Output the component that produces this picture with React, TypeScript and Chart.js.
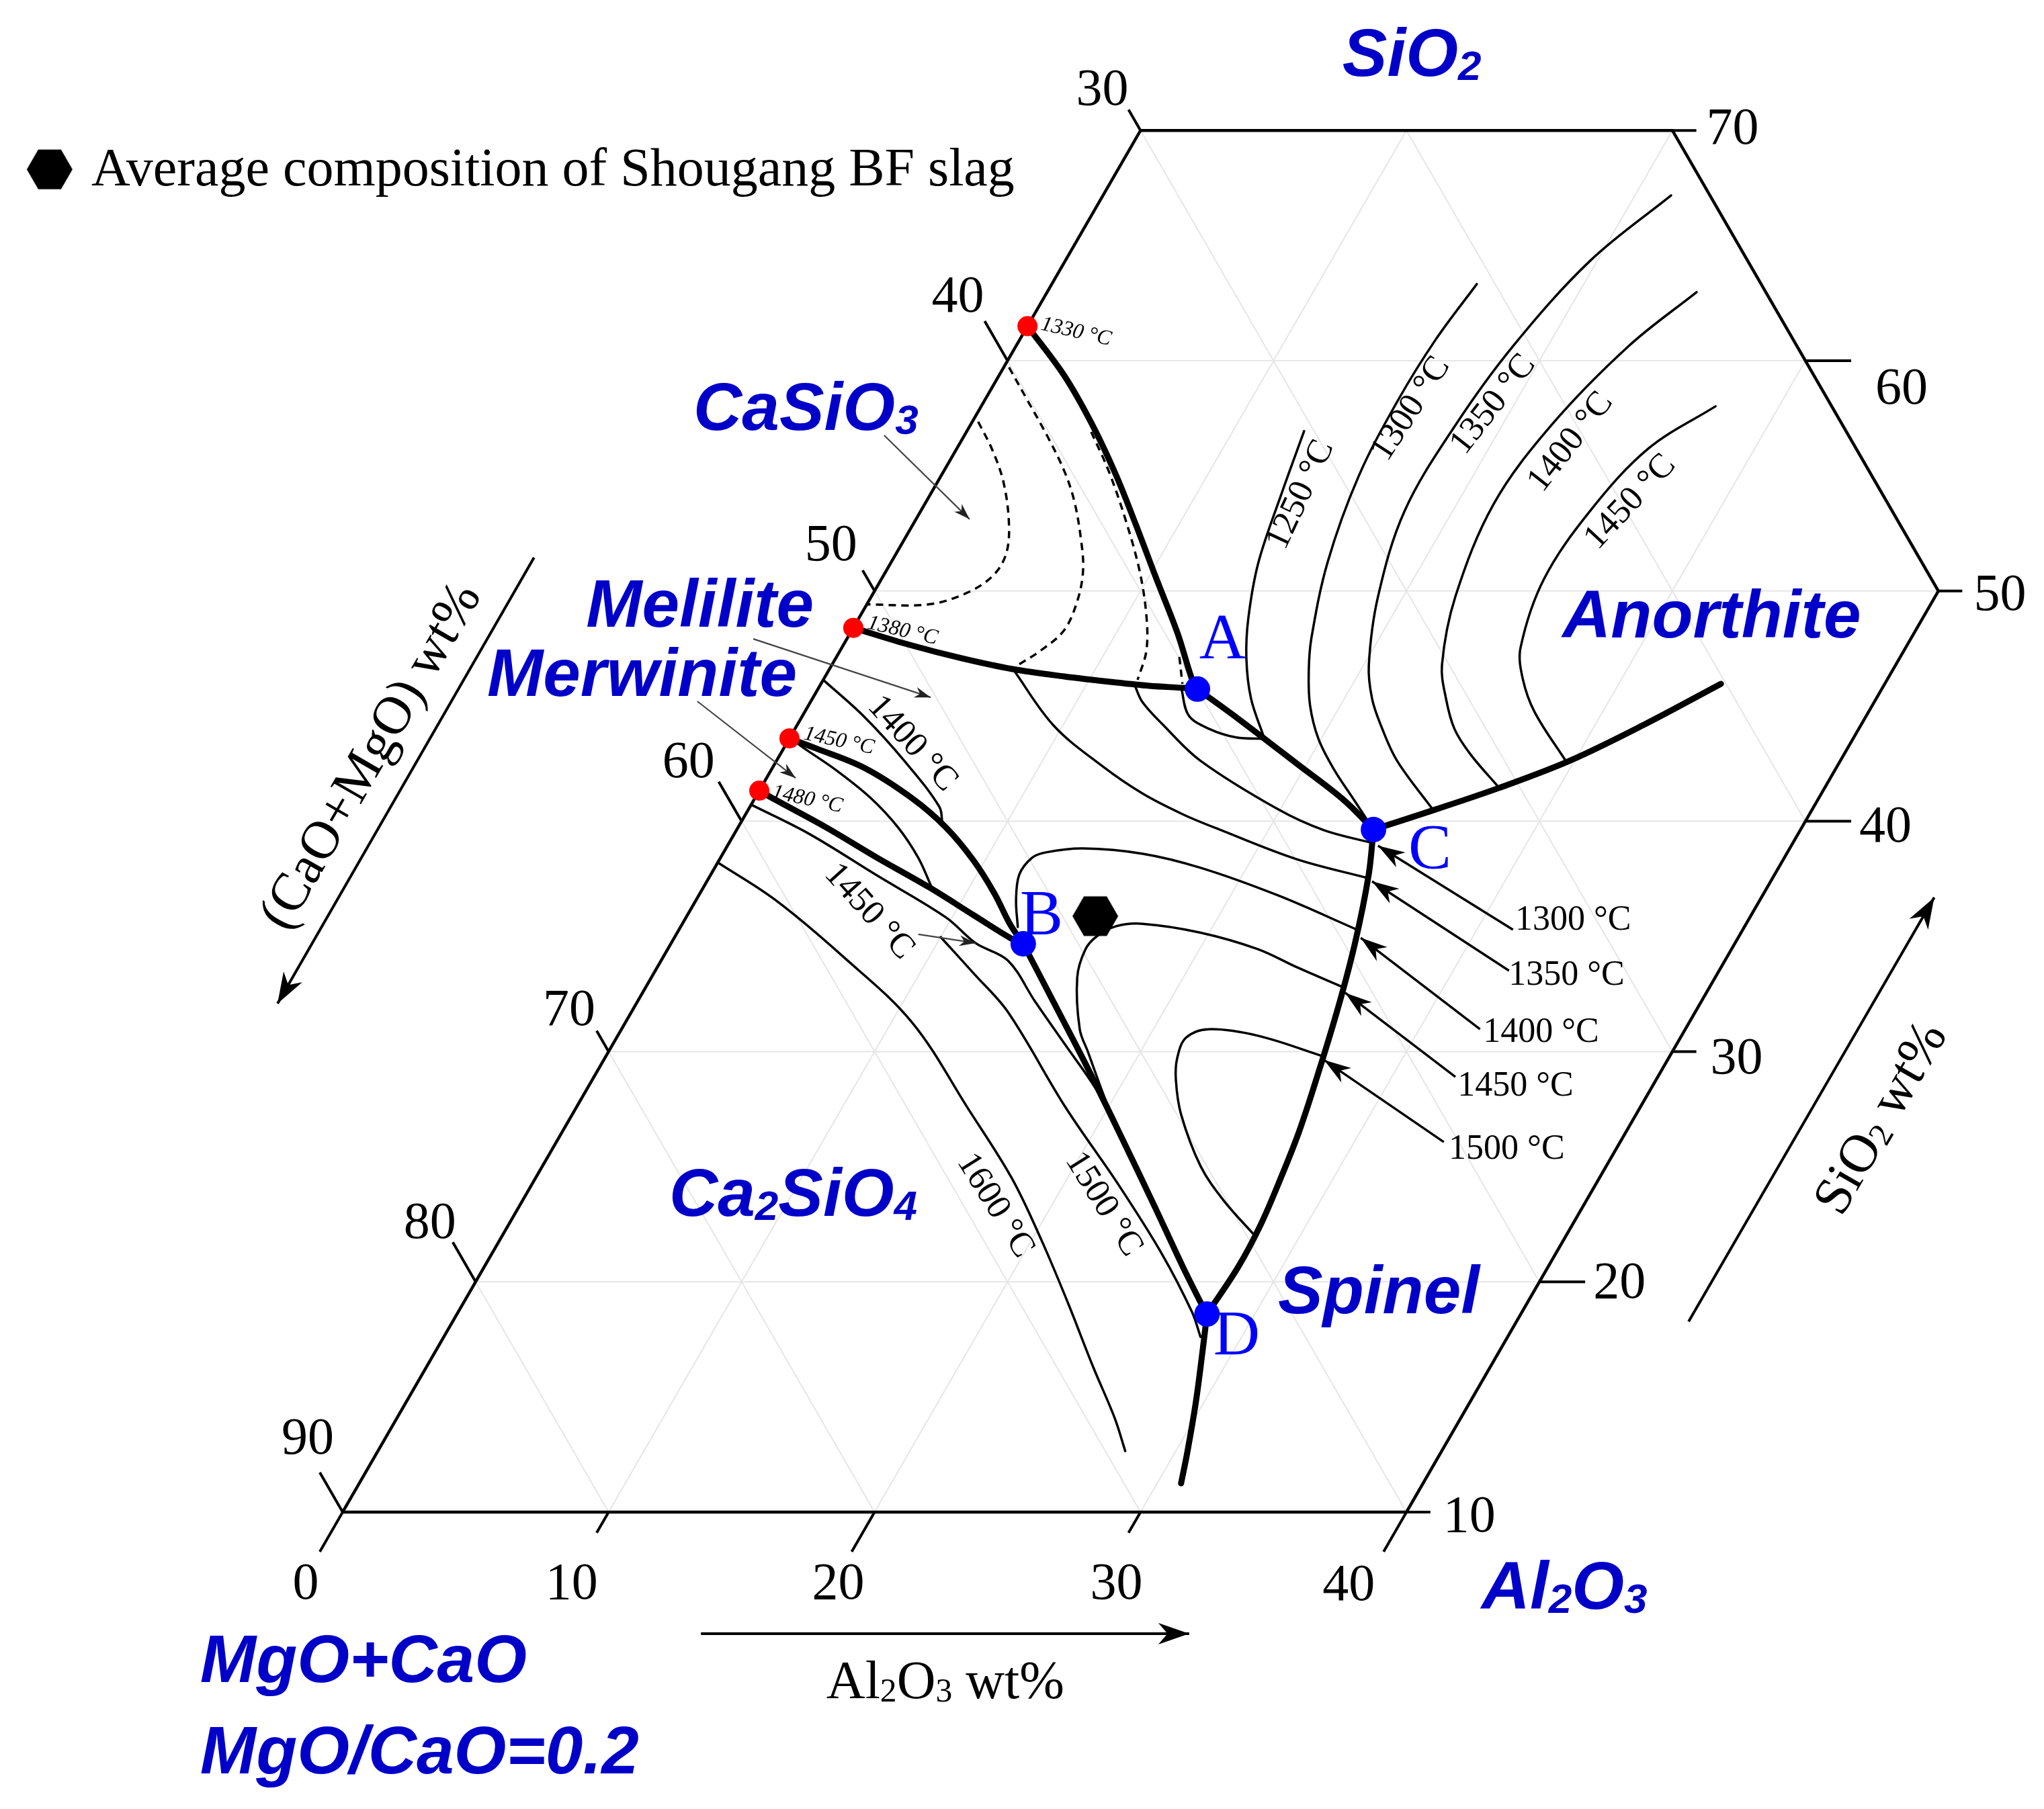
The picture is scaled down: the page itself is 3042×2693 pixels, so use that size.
import React, { useEffect, useRef } from "react";
import { Chart, registerables } from "chart.js";

Chart.register(...registerables);

/* ===== DATA — every point is [Al2O3 wt%, SiO2 wt%]; (CaO+MgO) wt% = 100 - Al2O3 - SiO2 ===== */

const invariantNames = ["A", "B", "C", "D"];
const invariantPoints = [
  [14.27, 45.74],
  [13.25, 34.68],
  [23.94, 39.64],
  [28.2, 18.6],
];
const edgeTempLabels = ["1330 °C", "1380 °C", "1450 °C", "1480 °C"];
const edgeTempPoints = [
  [0, 61.5],
  [0, 48.4],
  [0, 43.6],
  [0, 41.33],
];
const slagAverage = [[15.36, 35.88]];

// thick phase boundaries
const boundary1330toA = [[0, 61.5], [2.45, 59.36], [4.51, 57.29], [6.53, 55.07], [8.41, 52.85], [10.34, 50.52], [12.29, 48.19], [13.92, 46.08], [14.27, 45.74]];
const boundary1380toA = [[0, 48.4], [2.49, 47.66], [4.73, 47.08], [6.88, 46.61], [8.98, 46.29], [11.03, 46.03], [12.4, 45.88], [13.73, 45.79], [14.27, 45.74]];
const boundaryAtoC = [[14.27, 45.74], [16.45, 44.45], [19.63, 42.5], [22.14, 40.95], [23.94, 39.64]];
const boundaryCtoAnorthite = [[23.94, 39.64], [25.77, 40.48], [27.76, 41.45], [29.84, 42.64], [31.83, 44.19], [33.84, 45.97]];
const boundaryCtoD = [[23.94, 39.64], [24.74, 37.68], [25.71, 34.71], [26.52, 31.73], [27.3, 28.41], [27.72, 26.42], [28.03, 24.44], [28.28, 22.46], [28.35, 20.65], [28.2, 18.6]];
const boundaryDdown = [[28.2, 18.6], [28.81, 17.06], [29.68, 14.81], [30.46, 12.6], [30.9, 11.25]];
const boundary1450toB = [[0, 43.6], [1.2, 43.17], [3.45, 42.32], [5.89, 41.01], [7.82, 39.73], [9.57, 38.3], [11.07, 36.87], [12.31, 35.55], [13.25, 34.68]];
const boundary1480toB = [[0, 41.33], [0.77, 40.95], [3.32, 39.73], [5.9, 38.41], [8.49, 37.13], [10.75, 35.93], [12.68, 34.91], [13.25, 34.68]];
const boundaryBtoD = [[13.25, 34.68], [15.75, 32.05], [18.43, 29.22], [21.2, 26.22], [23.87, 23.3], [26.24, 20.68], [27.6, 19.22], [28.2, 18.6]];

// isotherms, anorthite field
const iso1250Anorthite = [[12.68, 56.94], [13.19, 54.22], [13.81, 51.25], [14.64, 48.83], [15.44, 47.08], [16.49, 45.33], [17.87, 43.58]];
const iso1250Loop = [[17.87, 43.58], [16.78, 43.64], [15.58, 44.01], [14.51, 44.6], [13.63, 45.8]];
const iso1300Anorthite = [[15.98, 63.33], [15.64, 60.93], [15.54, 58.25], [15.71, 54.98], [16.41, 51.25], [17.45, 47.95], [18.08, 46.49], [18.86, 45.03], [19.9, 43.58], [21.14, 42.26], [22.54, 40.95], [23.94, 39.64]];
const iso1350Anorthite = [[21.36, 67.18], [19.74, 64.35], [18.69, 60.64], [18.24, 57.2], [18.19, 53.49], [19.05, 49.76], [20.19, 46.79], [21.04, 45.33], [21.96, 44.16], [23.32, 42.64], [25.77, 40.48]];
const iso1400Anorthite = [[24.42, 62.98], [23.04, 60.64], [21.85, 57.2], [21.39, 53.79], [21.96, 49.76], [22.94, 46.79], [23.82, 45.33], [24.8, 44.01], [25.95, 42.91], [27.76, 41.45]];
const iso1450Anorthite = [[27.61, 58.02], [26.0, 56.18], [25.17, 53.49], [24.91, 50.52], [25.52, 47.54], [26.27, 46.2], [27.45, 44.74], [29.7, 42.6]];

// isotherms, melilite field
const iso1300Melilite = [[11.8, 45.94], [12.48, 45.18], [13.79, 44.16], [15.92, 42.64], [19.87, 40.54], [22.09, 39.61], [24.09, 39.08]];
const iso1350Melilite = [[6.91, 46.6], [9.65, 44.16], [12.34, 42.41], [14.46, 41.21], [16.42, 40.31], [18.15, 39.64], [21.7, 38.35], [24.75, 37.54]];
const iso1400MeliliteUpper = [[0, 46.14], [2.34, 44.54], [4.85, 42.59], [7.12, 40.63], [7.6, 39.9]];
const iso1400MeliliteLoop = [[12.68, 35.41], [12.03, 36.58], [11.6, 37.68], [11.71, 38.41], [12.12, 38.65], [13.43, 38.82], [15.79, 38.59], [18.27, 37.98], [21.78, 36.78], [25.5, 35.29]];
const iso1450Melilite = [[20.15, 27.4], [19.26, 28.47], [18.06, 29.95], [17.23, 30.97], [16.01, 33.22], [15.71, 34.42], [15.85, 35.0], [16.36, 35.44], [17.29, 35.55], [19.65, 35.17], [22.18, 34.45], [24.05, 33.66], [26.2, 32.8]];
const iso1500Melilite = [[26.95, 29.8], [24.1, 30.68], [22.08, 30.97], [21.41, 30.6], [21.52, 29.72], [21.95, 28.76], [22.89, 27.27], [24.75, 25.02], [26.35, 23.54], [28.3, 22.0]];

// isotherms, merwinite / Ca2SiO4 fields
const isoMerwinite = [[0.3, 43.45], [0.66, 43.23], [2.46, 42.21], [4.35, 41.01], [6.02, 39.73], [7.44, 38.41], [8.53, 37.19]];
const iso1450Ca2SiO4 = [[0, 40.72], [2.8, 39.46], [6.3, 37.63], [9.78, 35.82], [11.44, 34.71], [13.04, 33.95], [14.92, 32.2], [17.07, 30.25], [19.1, 28.41], [20.8, 26.66]];
const iso1500Ca2SiO4 = [[10.0, 34.97], [12.06, 33.37], [14.14, 31.73], [18.41, 27.56], [22.07, 24.21], [25.18, 21.23], [27.59, 18.69], [28.45, 17.61]];
const iso1600Ca2SiO4 = [[0, 38.21], [2.95, 36.6], [6.76, 34.12], [10.77, 31.27], [14.81, 27.47], [17.91, 24.5], [20.37, 21.81], [22.69, 19.13], [25.07, 16.3], [26.99, 14.08], [28.1, 12.65]];

// dashed curves, CaSiO3 field
const dashedCaSiO3a = [[0.22, 57.35], [1.37, 56.12], [2.51, 54.69], [3.63, 52.85], [4.15, 51.57], [4.11, 50.64], [3.46, 49.88], [2.27, 49.41], [0, 49.42]];
const dashedCaSiO3b = [[0.2, 59.71], [1.55, 58.34], [3.1, 56.76], [4.52, 55.22], [5.56, 53.9], [6.66, 52.21], [7.39, 50.9], [7.83, 49.61], [7.98, 48.3], [7.53, 47.4], [6.95, 46.73]];
const dashedCaSiO3c = [[4.69, 56.91], [6.19, 55.22], [7.87, 53.12], [9.51, 50.9], [10.75, 48.94], [11.52, 47.4], [11.82, 46.14]];
const dashedCaSiO3d = [[12.89, 47.14], [13.59, 45.97]];

// isotherm call-outs on the C–D boundary
const cdTempLabels = ["1300 °C", "1350 °C", "1400 °C", "1450 °C", "1500 °C"];
const cdArrowTails = [[31.36, 35.29], [32.1, 33.51], [32.28, 30.97], [32.39, 28.9], [33.37, 26.07]];
const cdArrowHeads = [[24.46, 38.94], [25.01, 37.39], [25.81, 34.94], [26.42, 32.55], [27.09, 29.63]];

// small label pointers
const pointerCaSiO3 = [[-3.02, 56.76], [2.01, 53.12]];
const pointerMelilite = [[-3.52, 47.92], [4.42, 45.38]];
const pointerMerwinite = [[-4.27, 45.21], [1.09, 41.88]];
const pointer1450 = [[9.1, 35.09], [11.44, 34.71]];

// axis direction arrows
const arrowCaOMgO = [[-13.53, 51.45], [-13.49, 32.08]];
const arrowSiO2 = [[46.47, 18.28], [46.5, 36.69]];
const arrowAl2O3 = [[16.11, 4.72], [34.47, 4.72]];

// frame & ticks
const frame = [[0, 10], [40, 10], [40, 50], [20, 70], [0, 70], [0, 10]];
const gridSteps = [10, 20, 30, 40, 50, 60, 70, 80, 90];
const leftTickValues = [30, 40, 50, 60, 70, 80, 90]; // (CaO+MgO) wt%
const bottomTickValues = [0, 10, 20, 30, 40]; // Al2O3 wt%
const rightTickValues = [10, 20, 30, 40, 50, 60, 70]; // SiO2 wt%

/* ===== STYLE / LAYOUT ===== */
const W = 3042;
const H = 2693;
const VIEW = { xMin: -7.885, xMax: 68.972, yMin: -2.894, yMax: 75.665 };
const leftTickLong = [false, true, false, true, false, true, true];
const bottomTickLong = [true, false, true, false, true];
const rightTickLong = [false, true, false, true, false, true, false];
const TICK_LONG = 1.72;
const TICK_SHORT = 0.9;
const leftLabelShift = [[-39, -33], [-40, -40], [-47, -41], [-45, -32], [-41, -34], [-34, -32], [-18, -54]];
const bottomLabelShift = [[-55, 103], [-55, 103], [-54, 103], [-36, 103], [-86, 105]];
const rightLabelShift = [[19, 3], [12, -2], [21, 7], [12, 5], [17, 2], [36, 38], [15, -6]];

const SANS = "'Liberation Sans', Arial, sans-serif";
const SERIF = "'Liberation Serif', 'Times New Roman', serif";
const PHASE_BLUE = "#0000c8";
const POINT_BLUE = "#0000ff";

const phaseTexts = [
  { segs: [["CaSiO", 0], ["3", 1]], X: 18.19, Y: 57.0 },
  { segs: [["Melilite", 0]], X: 14.15, Y: 48.45 },
  { segs: [["Merwinite", 0]], X: 10.43, Y: 45.44 },
  { segs: [["Ca", 0], ["2", 1], ["SiO", 0], ["4", 1]], X: 17.28, Y: 22.86 },
  { segs: [["Anorthite", 0]], X: 50.86, Y: 47.98 },
  { segs: [["Spinel", 0]], X: 40.17, Y: 18.63 },
  { segs: [["SiO", 0], ["2", 1]], X: 42.59, Y: 72.37 },
  { segs: [["Al", 0], ["2", 1], ["O", 0], ["3", 1]], X: 47.82, Y: 5.8 },
  { segs: [["MgO+CaO", 0]], X: -0.36, Y: 2.62 },
  { segs: [["MgO/CaO=0.2", 0]], X: -0.36, Y: -1.35 },
];
const invariantLabelPos = [[37.21, 47.08], [30.47, 35.09], [45.07, 37.95], [37.74, 16.83]];
const edgeTempLabelPos = [[31.28, 61.66, 13], [24.76, 48.68, 13], [22.36, 43.87, 12], [21.17, 41.33, 12]];
const isoTexts = [
  { t: "1250 °C", X: 40.95, Y: 54.22, r: -65 },
  { t: "1300 °C", X: 45.1, Y: 57.96, r: -57 },
  { t: "1350 °C", X: 48.2, Y: 58.16, r: -52 },
  { t: "1400 °C", X: 51.11, Y: 56.53, r: -52 },
  { t: "1450 °C", X: 53.36, Y: 53.93, r: -47 },
  { t: "1400 °C", X: 26.48, Y: 43.43, r: 48 },
  { t: "1450 °C", X: 24.86, Y: 36.14, r: 48 },
  { t: "1600 °C", X: 29.61, Y: 23.36, r: 58 },
  { t: "1500 °C", X: 33.68, Y: 23.42, r: 58 },
];
const cdLabelPos = [[49.09, 35.29], [48.84, 32.9], [47.88, 30.42], [46.92, 28.09], [46.59, 25.34]];
const legendPos = { hexX: -6.02, hexY: 68.31, textX: -4.45, textY: 67.61 };
const axisTitles = [
  { segs: [["(CaO+MgO) wt%", 0]], X: 5.99, Y: 42.88, r: -60 },
  { segs: [["SiO", 0], ["2", 1], [" wt%", 0]], X: 62.78, Y: 27.15, r: -60 },
  { segs: [["Al", 0], ["2", 1], ["O", 0], ["3", 1], [" wt%", 0]], X: 27.66, Y: 1.92, r: 0, base: true },
];

/* ===== helpers ===== */
const tern = (p) => ({ x: p[0] + p[1] / 2, y: p[1] });

function lineDs(pts, width, extra = {}) {
  return {
    data: pts.map(tern),
    showLine: true,
    pointRadius: 0,
    pointHoverRadius: 0,
    pointHitRadius: 0,
    borderColor: "#000",
    backgroundColor: "#000",
    borderWidth: width,
    tension: 0.35,
    fill: false,
    borderCapStyle: "round",
    borderJoinStyle: "round",
    order: 60,
    ...extra,
  };
}

function hexCanvas(r) {
  const c = document.createElement("canvas");
  c.width = Math.ceil(2 * r + 4);
  c.height = Math.ceil(2 * r + 4);
  const g = c.getContext("2d");
  const cx = c.width / 2;
  const cy = c.height / 2;
  g.beginPath();
  for (let i = 0; i < 6; i++) {
    const a = (Math.PI / 3) * i;
    const x = cx + r * Math.cos(a);
    const y = cy + r * Math.sin(a);
    if (i === 0) g.moveTo(x, y);
    else g.lineTo(x, y);
  }
  g.closePath();
  g.fillStyle = "#000";
  g.fill();
  return c;
}

function drawText(ctx, segs, x, y, o) {
  ctx.save();
  ctx.translate(x, y);
  if (o.rot) ctx.rotate((o.rot * Math.PI) / 180);
  ctx.fillStyle = o.color || "#000";
  ctx.textBaseline = "alphabetic";
  ctx.textAlign = "left";
  const parts = segs.map((s) => {
    const sub = !!s[1];
    const size = sub ? o.size * 0.62 : o.size;
    const font = `${o.style || ""} ${size}px ${o.family}`;
    ctx.font = font;
    return { t: s[0], font, w: ctx.measureText(s[0]).width, dy: sub ? o.size * 0.06 : 0 };
  });
  const total = parts.reduce((a, p) => a + p.w, 0);
  let cx = o.align === "center" ? -total / 2 : 0;
  const vy = o.vcenter ? o.size * 0.33 : 0;
  parts.forEach((p) => {
    ctx.font = p.font;
    ctx.fillText(p.t, cx, vy + p.dy);
    cx += p.w;
  });
  ctx.restore();
}

function drawHead(ctx, x1, y1, x2, y2, len, half, color) {
  const a = Math.atan2(y2 - y1, x2 - x1);
  ctx.save();
  ctx.translate(x2, y2);
  ctx.rotate(a);
  ctx.beginPath();
  ctx.moveTo(0, 0);
  ctx.lineTo(-len, -half);
  ctx.lineTo(-len * 0.7, 0);
  ctx.lineTo(-len, half);
  ctx.closePath();
  ctx.fillStyle = color;
  ctx.fill();
  ctx.restore();
}

function buildDatasets(hexImg) {
  const ds = [];
  // grid
  const GRID = { borderColor: "#e6e6e6", tension: 0, order: 100, borderCapStyle: "butt" };
  gridSteps.forEach((s) => {
    if (s > 10 && s < 70) ds.push(lineDs([[0, s], [Math.min(40, 90 - s), s]], 2, GRID));
    if (s > 0 && s < 40) ds.push(lineDs([[s, 10], [s, Math.min(70, 90 - s)]], 2, GRID));
    const k = s;
    if (k >= 20 && k <= 80) {
      const lo = Math.max(10, k - 40);
      const hi = Math.min(70, k);
      ds.push(lineDs([[k - lo, lo], [k - hi, hi]], 2, GRID));
    }
  });
  // frame
  ds.push(lineDs(frame, 4.5, { tension: 0, order: 90, borderJoinStyle: "miter", borderCapStyle: "butt" }));
  // ticks
  const TICK = { tension: 0, order: 90, borderCapStyle: "butt" };
  leftTickValues.forEach((c, i) => {
    const si = 100 - c;
    const d = leftTickLong[i] ? TICK_LONG : TICK_SHORT;
    ds.push(lineDs([[0, si], [-d, si + d]], 4, TICK));
  });
  bottomTickValues.forEach((a, i) => {
    const d = bottomTickLong[i] ? TICK_LONG : TICK_SHORT;
    ds.push(lineDs([[a, 10], [a, 10 - d]], 4, TICK));
  });
  rightTickValues.forEach((si, i) => {
    const d = rightTickLong[i] ? TICK_LONG : TICK_SHORT;
    const base = si <= 50 ? 40 : 90 - si;
    ds.push(lineDs([[base, si], [base + d, si]], 4, TICK));
  });
  // thin isotherms
  [
    iso1250Anorthite, iso1250Loop, iso1300Anorthite, iso1350Anorthite, iso1400Anorthite, iso1450Anorthite,
    iso1300Melilite, iso1350Melilite, iso1400MeliliteUpper, iso1400MeliliteLoop, iso1450Melilite, iso1500Melilite,
    isoMerwinite, iso1450Ca2SiO4, iso1500Ca2SiO4, iso1600Ca2SiO4,
  ].forEach((c) => ds.push(lineDs(c, 3.5, { order: 60 })));
  // dashed
  [dashedCaSiO3a, dashedCaSiO3b, dashedCaSiO3c, dashedCaSiO3d].forEach((c) =>
    ds.push(lineDs(c, 3.5, { order: 60, borderDash: [11, 8], borderCapStyle: "butt" }))
  );
  // thick boundaries
  [
    boundary1330toA, boundary1380toA, boundaryAtoC, boundaryCtoAnorthite, boundaryCtoD, boundaryDdown,
    boundary1450toB, boundary1480toB, boundaryBtoD,
  ].forEach((c) => ds.push(lineDs(c, 9, { order: 50 })));
  // C–D call-out arrows
  cdArrowTails.forEach((t, i) =>
    ds.push(lineDs([t, cdArrowHeads[i]], 3.5, { tension: 0, order: 40, borderCapStyle: "butt", arrowHead: [40, 13, "#000"] }))
  );
  // label pointers
  [pointerCaSiO3, pointerMelilite, pointerMerwinite, pointer1450].forEach((p) =>
    ds.push(lineDs(p, 2.2, { tension: 0, order: 40, borderColor: "#444", borderCapStyle: "butt", arrowHead: [24, 8, "#222"] }))
  );
  // axis arrows
  [arrowCaOMgO, arrowSiO2, arrowAl2O3].forEach((p) =>
    ds.push(lineDs(p, 4, { tension: 0, order: 40, borderCapStyle: "butt", arrowHead: [46, 16, "#000"] }))
  );
  // points
  ds.push({
    data: edgeTempPoints.map(tern),
    pointRadius: 15,
    pointHoverRadius: 15,
    pointBackgroundColor: "#ff0000",
    pointBorderWidth: 0,
    showLine: false,
    order: 5,
  });
  ds.push({
    data: invariantPoints.map(tern),
    pointRadius: 19,
    pointHoverRadius: 19,
    pointBackgroundColor: "#0000ff",
    pointBorderWidth: 0,
    showLine: false,
    order: 4,
  });
  ds.push({
    data: slagAverage.map(tern),
    pointStyle: hexImg,
    pointRadius: 34,
    showLine: false,
    order: 3,
  });
  return ds;
}

const arrowPlugin = {
  id: "arrowHeads",
  afterDatasetsDraw(chart) {
    const ctx = chart.ctx;
    chart.data.datasets.forEach((ds, i) => {
      if (!ds.arrowHead) return;
      const pts = chart.getDatasetMeta(i).data;
      if (pts.length < 2) return;
      const a = pts[pts.length - 2];
      const b = pts[pts.length - 1];
      drawHead(ctx, a.x, a.y, b.x, b.y, ds.arrowHead[0], ds.arrowHead[1], ds.arrowHead[2]);
    });
  },
};

function makeTextPlugin(hexImg) {
  return {
    id: "ternaryText",
    afterDraw(chart) {
      const ctx = chart.ctx;
      const sx = chart.scales.x;
      const sy = chart.scales.y;
      const P = (X, Y) => [sx.getPixelForValue(X), sy.getPixelForValue(Y)];
      const T = (p) => P(p[0] + p[1] / 2, p[1]);

      // legend
      const hp = P(legendPos.hexX, legendPos.hexY);
      ctx.drawImage(hexImg, hp[0] - hexImg.width / 2, hp[1] - hexImg.height / 2);
      const lp = P(legendPos.textX, legendPos.textY);
      drawText(ctx, [["Average composition of Shougang BF slag", 0]], lp[0], lp[1], { size: 80, family: SERIF });

      // phase names / titles
      phaseTexts.forEach((t) => {
        const p = P(t.X, t.Y);
        drawText(ctx, t.segs, p[0], p[1], { size: 100, family: SANS, style: "italic bold", color: PHASE_BLUE });
      });

      // invariant point letters
      invariantNames.forEach((n, i) => {
        const p = P(invariantLabelPos[i][0], invariantLabelPos[i][1]);
        drawText(ctx, [[n, 0]], p[0], p[1], { size: 96, family: SERIF, color: POINT_BLUE });
      });

      // edge temperatures
      edgeTempLabels.forEach((t, i) => {
        const q = edgeTempLabelPos[i];
        const p = P(q[0], q[1]);
        drawText(ctx, [[t, 0]], p[0], p[1], { size: 32, family: SERIF, style: "italic", rot: q[2], vcenter: true });
      });

      // isotherm labels
      isoTexts.forEach((t) => {
        const p = P(t.X, t.Y);
        drawText(ctx, [[t.t, 0]], p[0], p[1], { size: 52, family: SERIF, rot: t.r, align: "center", vcenter: true });
      });
      cdTempLabels.forEach((t, i) => {
        const p = P(cdLabelPos[i][0], cdLabelPos[i][1]);
        drawText(ctx, [[t, 0]], p[0], p[1], { size: 52, family: SERIF });
      });

      // axis titles
      axisTitles.forEach((t) => {
        const p = P(t.X, t.Y);
        drawText(ctx, t.segs, p[0], p[1], { size: 80, family: SERIF, rot: t.r, align: "center", vcenter: !t.base });
      });

      // tick labels
      const TL = { size: 78, family: SERIF, align: "center", vcenter: true };
      leftTickValues.forEach((c, i) => {
        const si = 100 - c;
        const d = leftTickLong[i] ? TICK_LONG : TICK_SHORT;
        const e = T([-d, si + d]);
        drawText(ctx, [[String(c), 0]], e[0] + leftLabelShift[i][0], e[1] + leftLabelShift[i][1], TL);
      });
      bottomTickValues.forEach((a, i) => {
        const e = T([a, 10]);
        drawText(ctx, [[String(a), 0]], e[0] + bottomLabelShift[i][0], e[1] + bottomLabelShift[i][1], TL);
      });
      rightTickValues.forEach((si, i) => {
        const d = rightTickLong[i] ? TICK_LONG : TICK_SHORT;
        const base = si <= 50 ? 40 : 90 - si;
        const e = T([base + d, si]);
        drawText(ctx, [[String(si), 0]], e[0] + rightLabelShift[i][0], e[1] + rightLabelShift[i][1], {
          size: 78,
          family: SERIF,
          vcenter: true,
        });
      });
    },
  };
}

export default function App() {
  const ref = useRef(null);
  useEffect(() => {
    const hexImg = hexCanvas(34);
    const chart = new Chart(ref.current, {
      type: "scatter",
      data: { datasets: buildDatasets(hexImg) },
      options: {
        animation: false,
        responsive: false,
        devicePixelRatio: 1,
        events: [],
        layout: { padding: 0, autoPadding: false },
        plugins: { legend: { display: false }, tooltip: { enabled: false } },
        scales: {
          x: { type: "linear", min: VIEW.xMin, max: VIEW.xMax, display: false },
          y: { type: "linear", min: VIEW.yMin, max: VIEW.yMax, display: false },
        },
      },
      plugins: [arrowPlugin, makeTextPlugin(hexImg)],
    });
    return () => chart.destroy();
  }, []);
  return (
    <div style={{ position: "fixed", left: 0, top: 0, width: W, height: H, background: "#fff" }}>
      <canvas ref={ref} width={W} height={H} style={{ display: "block", width: W, height: H }} />
    </div>
  );
}
